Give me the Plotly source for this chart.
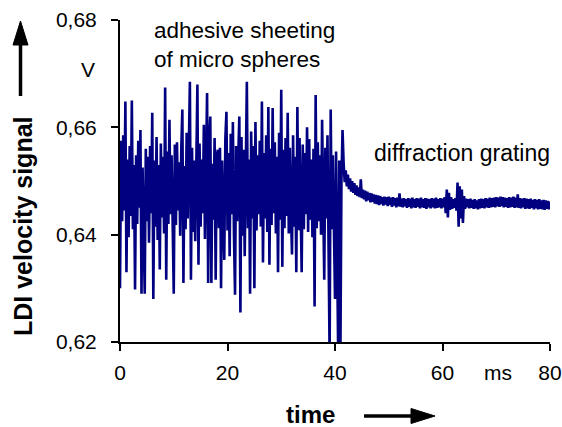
import plotly.graph_objects as go

# ---- data (V) ----
# noisy section: adhesive sheeting of micro spheres, sampled every 0.2 ms from 0 ms
noisy_start = 0.0
noisy_step = 0.2
noisy_v = [
    0.6300, 0.6575, 0.6425, 0.6585, 0.6445,
    0.6648, 0.6330, 0.6540, 0.6395, 0.6565,
    0.6435, 0.6650, 0.6410, 0.6530, 0.6298,
    0.6548, 0.6420, 0.6575, 0.6450, 0.6595,
    0.6290, 0.6525, 0.6405, 0.6290, 0.6560,
    0.6425, 0.6545, 0.6385, 0.6565, 0.6440,
    0.6627, 0.6280, 0.6538, 0.6415, 0.6582,
    0.6390, 0.6530, 0.6335, 0.6570, 0.6432,
    0.6545, 0.6402, 0.6674, 0.6316, 0.6555,
    0.6420, 0.6614, 0.6438, 0.6548, 0.6395,
    0.6290, 0.6568, 0.6418, 0.6572, 0.6445,
    0.6535, 0.6398, 0.6560, 0.6633, 0.6310,
    0.6528, 0.6410, 0.6590, 0.6430, 0.6552,
    0.6685, 0.6316, 0.6562, 0.6405, 0.6538,
    0.6388, 0.6595, 0.6680, 0.6344, 0.6570,
    0.6415, 0.6540, 0.6440, 0.6605, 0.6392,
    0.6555, 0.6664, 0.6310, 0.6575, 0.6620,
    0.6310, 0.6532, 0.6428, 0.6580, 0.6316,
    0.6548, 0.6558, 0.6412, 0.6562, 0.6300,
    0.6538, 0.6435, 0.6353, 0.6578, 0.6629,
    0.6408, 0.6552, 0.6360, 0.6588, 0.6438,
    0.6610, 0.6402, 0.6288, 0.6565, 0.6425,
    0.6545, 0.6620, 0.6255, 0.6582, 0.6398,
    0.6558, 0.6360, 0.6570, 0.6685, 0.6412,
    0.6540, 0.6290, 0.6592, 0.6430, 0.6565,
    0.6300, 0.6610, 0.6408, 0.6548, 0.6438,
    0.6575, 0.6415, 0.6648, 0.6348, 0.6552,
    0.6430, 0.6585, 0.6405, 0.6638, 0.6344,
    0.6560, 0.6418, 0.6636, 0.6440, 0.6572,
    0.6402, 0.6545, 0.6330, 0.6590, 0.6428,
    0.6670, 0.6340, 0.6558, 0.6412, 0.6580,
    0.6435, 0.6627, 0.6402, 0.6562, 0.6440,
    0.6363, 0.6585, 0.6415, 0.6545, 0.6330,
    0.6638, 0.6408, 0.6580, 0.6432, 0.6330,
    0.6568, 0.6410, 0.6552, 0.6438, 0.6600,
    0.6405, 0.6578, 0.6428, 0.6540, 0.6395,
    0.6560, 0.6266, 0.6660, 0.6412, 0.6572,
    0.6425, 0.6548, 0.6400, 0.6614, 0.6390,
    0.6316, 0.6562, 0.6430, 0.6585, 0.6398,
    0.6170, 0.6633, 0.6410, 0.6548, 0.6425,
    0.6280, 0.6555, 0.6405, 0.6170, 0.6538,
    0.6170, 0.6500, 0.6595,
]

# steady section: diffraction grating, sampled every 0.2 ms from 41.6 ms
steady_start = 41.6
steady_step = 0.2
steady_v = [
    0.6535, 0.6498, 0.6520, 0.6490, 0.6512, 0.6485, 0.6505, 0.6480, 0.6500, 0.6478,
    0.6496, 0.6474, 0.6492, 0.6472, 0.6488, 0.6470, 0.6503, 0.6468, 0.6484, 0.6466,
    0.6482, 0.6462, 0.6480, 0.6464, 0.6478, 0.6460, 0.6477, 0.6461, 0.6475, 0.6458,
    0.6474, 0.6457, 0.6473, 0.6455, 0.6472, 0.6457, 0.6470, 0.6454, 0.6471, 0.6456,
    0.6470, 0.6453, 0.6471, 0.6455, 0.6469, 0.6452, 0.6470, 0.6454, 0.6468, 0.6451,
    0.6469, 0.6453, 0.6477, 0.6452, 0.6467, 0.6451, 0.6468, 0.6453, 0.6466, 0.6450,
    0.6468, 0.6452, 0.6467, 0.6449, 0.6469, 0.6451, 0.6466, 0.6450, 0.6468, 0.6452,
    0.6467, 0.6449, 0.6469, 0.6451, 0.6466, 0.6450, 0.6468, 0.6448, 0.6467, 0.6451,
    0.6466, 0.6449, 0.6468, 0.6451, 0.6467, 0.6449, 0.6469, 0.6450, 0.6466, 0.6451,
    0.6468, 0.6449, 0.6467, 0.6451, 0.6470, 0.6440, 0.6484, 0.6432, 0.6478, 0.6446,
    0.6470, 0.6448, 0.6466, 0.6450, 0.6468, 0.6445, 0.6497, 0.6415, 0.6490, 0.6430,
    0.6484, 0.6422, 0.6472, 0.6448, 0.6467, 0.6451, 0.6466, 0.6449, 0.6467, 0.6450,
    0.6465, 0.6448, 0.6466, 0.6449, 0.6464, 0.6447, 0.6466, 0.6449, 0.6467, 0.6450,
    0.6466, 0.6449, 0.6468, 0.6451, 0.6467, 0.6450, 0.6469, 0.6451, 0.6468, 0.6452,
    0.6469, 0.6451, 0.6470, 0.6453, 0.6469, 0.6452, 0.6471, 0.6453, 0.6470, 0.6451,
    0.6469, 0.6452, 0.6468, 0.6450, 0.6470, 0.6451, 0.6469, 0.6452, 0.6471, 0.6450,
    0.6469, 0.6451, 0.6475, 0.6450, 0.6468, 0.6449, 0.6467, 0.6451, 0.6468, 0.6448,
    0.6467, 0.6449, 0.6466, 0.6448, 0.6467, 0.6450, 0.6465, 0.6447, 0.6466, 0.6449,
    0.6465, 0.6447, 0.6466, 0.6448, 0.6464, 0.6447, 0.6465, 0.6446, 0.6464, 0.6448,
    0.6463, 0.6447, 0.6462,
]

x_ticks = [0, 20, 40, 60, 80]
x_ticktext = ["0", "20", "40", "60", "80"]
y_ticks = [0.62, 0.64, 0.66, 0.68]
y_ticktext = ["0,62", "0,64", "0,66", "0,68"]

# ---- build series ----
t = [round(noisy_start + noisy_step * i, 2) for i in range(len(noisy_v))]
t += [round(steady_start + steady_step * i, 2) for i in range(len(steady_v))]
v = noisy_v + steady_v

W, H = 562, 427
L, R, T, B = 120, 12, 20, 85
PW, PH = W - L - R, H - T - B


def px(xp):
    return (xp - L) / PW


def py(yp):
    return (H - B - yp) / PH


FONT = "Liberation Sans, Arial, Helvetica, sans-serif"
NAVY = "#000080"

fig = go.Figure()
fig.add_trace(go.Scatter(x=t, y=v, mode="lines",
                         line=dict(color=NAVY, width=2.6), showlegend=False,
                         hoverinfo="skip"))

fig.update_layout(
    width=W, height=H,
    margin=dict(l=L, r=R, t=T, b=B),
    paper_bgcolor="white", plot_bgcolor="white",
    font=dict(family=FONT, size=21, color="black"),
    xaxis=dict(range=[0, 80], tickvals=x_ticks, ticktext=x_ticktext,
               showgrid=False, zeroline=False, showline=True, automargin=False,
               linecolor="black", linewidth=2, ticks="outside",
               ticklen=7, tickwidth=1.5, tickcolor="black",
               ticklabelstandoff=4),
    yaxis=dict(range=[0.62, 0.68], tickvals=y_ticks, ticktext=y_ticktext,
               showgrid=False, zeroline=False, showline=True, automargin=False,
               linecolor="black", linewidth=2, ticks="outside",
               ticklen=7, tickwidth=1.5, tickcolor="black",
               ticklabelstandoff=10),
)

ann = [
    dict(x=px(152), y=py(45), text="adhesive sheeting<br>of micro spheres",
         xanchor="left", yanchor="middle", align="left", font=dict(size=22.5)),
    dict(x=px(88), y=py(70), text="V", xanchor="center", yanchor="middle",
         font=dict(size=21)),
    dict(x=px(552), y=py(153), text="diffraction grating", xanchor="right",
         yanchor="middle", font=dict(size=23)),
    dict(x=px(498), y=py(372), text="ms", xanchor="center", yanchor="middle",
         font=dict(size=21)),
    dict(x=px(310), y=py(414), text="<b>time</b>", xanchor="center",
         yanchor="middle", font=dict(size=24)),
    dict(x=px(23), y=py(226), text="<b>LDI velocity signal</b>", textangle=-90,
         xanchor="center", yanchor="middle", font=dict(size=25)),
]
for a in ann:
    a.update(xref="paper", yref="paper", showarrow=False)
fig.update_layout(annotations=ann)

shapes = [
    # y arrow
    dict(type="line", x0=px(20.5), y0=py(96), x1=px(20.5), y1=py(42),
         line=dict(color="black", width=3.5)),
    dict(type="path",
         path=f"M {px(13)} {py(45)} L {px(28)} {py(45)} L {px(20.5)} {py(21)} Z",
         fillcolor="black", line=dict(color="black", width=1)),
    # x arrow
    dict(type="line", x0=px(364), y0=py(416), x1=px(415), y1=py(416),
         line=dict(color="black", width=3.5)),
    dict(type="path",
         path=f"M {px(411)} {py(408.5)} L {px(411)} {py(423.5)} L {px(435)} {py(416)} Z",
         fillcolor="black", line=dict(color="black", width=1)),
]
for s in shapes:
    s.update(xref="paper", yref="paper")
fig.update_layout(shapes=shapes)

fig.write_html("out.html")
